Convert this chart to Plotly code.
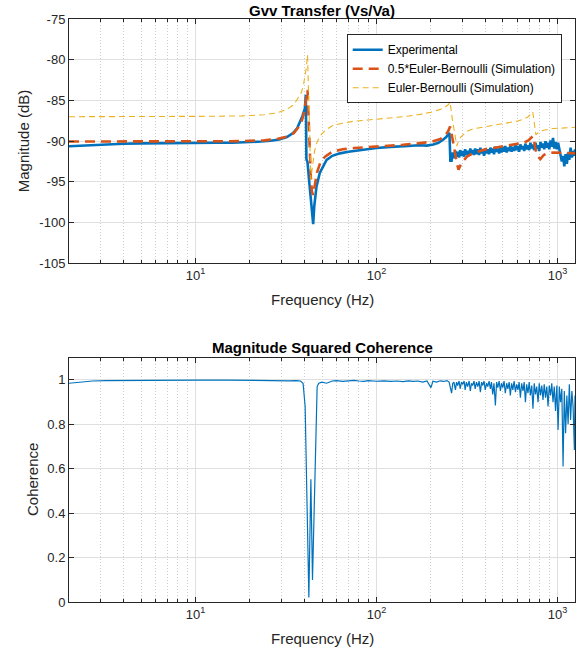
import math
import plotly.graph_objects as go

# ---------------- data ----------------
exp_freq_low = [2, 2.3, 2.6, 3, 3.5, 4, 5, 6, 8, 10,
                13, 16, 20, 23, 26, 29, 32, 34.6, 36.5, 37.7,
                39, 40.2, 40.7, 41.0, 41.6, 42.5, 43.5, 44.2, 44.7, 45.3,
                46.0, 46.6, 48.6, 51, 53, 57, 62.8, 70, 84.6, 100,
                120, 135, 150, 170, 190, 206, 220, 234, 243, 250,
                253, 256]
exp_mag_low = [-90.62, -90.55, -90.48, -90.42, -90.36, -90.32, -90.27, -90.24, -90.22, -90.2,
               -90.2, -90.2, -90.15, -90.05, -89.95, -89.8, -89.5, -89.0, -88.4, -87.75,
               -86.9, -86.0, -84.3, -92.2, -92.6, -95.0, -97.6, -99.3, -100.2, -98.0,
               -96.5, -95.6, -93.9, -92.9, -92.3, -91.8, -91.5, -91.3, -91.05, -90.85,
               -90.7, -90.6, -90.6, -90.5, -90.55, -90.4, -90.2, -89.8, -89.5, -89.1,
               -89.0, -92.4]

noise_freq = [260, 264, 268, 273, 277, 281, 286, 290, 295, 300,
              305, 309, 314, 319, 325, 330, 335, 340, 346, 351,
              357, 363, 369, 375, 381, 387, 393, 399, 406, 412,
              419, 426, 432, 439, 446, 454, 461, 468, 476, 484,
              491, 499, 507, 515, 524, 532, 541, 549, 558, 567,
              576, 586, 595, 605, 614, 624, 634, 645, 655, 665,
              676, 687, 698, 709, 721, 732, 744, 756, 768, 781,
              793, 806, 819, 832, 845, 859, 873, 887, 901, 916,
              930, 945, 960, 976, 992, 1008, 1024, 1040, 1057, 1074,
              1091, 1109, 1127, 1145, 1163, 1182, 1201, 1220, 1240, 1250]

exp_mag_noise = [-92.4, -91.4, -92.1, -91.2, -91.9, -91.3, -92.0, -91.1, -91.8, -91.2,
                 -91.9, -91.0, -91.7, -91.2, -91.8, -90.9, -91.6, -91.1, -91.7, -90.9,
                 -91.6, -91.0, -91.7, -90.8, -91.5, -91.1, -91.8, -90.9, -91.5, -91.0,
                 -91.6, -90.8, -91.4, -90.9, -91.6, -90.7, -91.3, -90.9, -91.5, -90.8,
                 -91.4, -90.7, -91.3, -90.6, -91.4, -90.8, -91.2, -90.5, -91.3, -90.7,
                 -91.2, -90.5, -91.1, -90.6, -91.3, -90.4, -91.0, -90.6, -91.2, -90.3,
                 -91.0, -90.5, -91.1, -90.2, -90.9, -90.4, -91.1, -90.2, -90.9, -90.5,
                 -91.2, -90.1, -90.8, -90.3, -91.0, -90.0, -90.8, -90.2, -91.0, -89.9,
                 -90.7, -89.6, -90.9, -90.1, -91.0, -90.2, -90.9, -91.4, -92.5, -91.8,
                 -93.1, -91.6, -92.8, -91.4, -92.3, -90.8, -92.0, -91.2, -91.8, -91.0]

sim_freq = [2, 4, 8, 12, 18, 24, 28, 32, 35, 37,
            38.5, 39.5, 40.3, 41.0, 41.6, 42.2, 42.8, 43.4, 44.0, 44.6,
            45.5, 47, 49, 52, 57, 65, 75, 90, 110, 140,
            170, 200, 225, 240, 250, 255, 262, 270, 278, 284,
            292, 305, 316, 340, 370, 408, 450, 483, 540, 598,
            650, 690, 710, 730, 745, 760, 780, 805, 840, 877,
            950, 1050, 1150, 1250]

half_eb_mag = [-90.05, -90.05, -90.05, -90.05, -90.0, -89.9, -89.75, -89.45, -89.0, -88.3,
               -87.6, -86.8, -85.8, -84.7, -83.7, -86.5, -91.0, -94.5, -96.2, -96.6,
               -95.3, -93.8, -92.6, -91.9, -91.3, -91.0, -90.85, -90.7, -90.6, -90.45,
               -90.3, -90.1, -89.75, -89.3, -88.7, -88.2, -89.5, -91.2, -92.7, -93.5,
               -92.9, -92.3, -91.9, -91.5, -91.2, -90.95, -90.8, -90.7, -90.55, -90.4,
               -90.2, -89.9, -89.7, -89.4, -90.2, -91.2, -91.9, -92.2, -91.7, -91.5,
               -91.4, -91.4, -91.45, -91.5]

eb_mag = [-87.0, -87.0, -87.0, -86.95, -86.9, -86.75, -86.55, -86.1, -85.5, -84.7,
          -84.0, -83.1, -82.1, -80.9, -79.4, -85.0, -91.5, -94.7, -93.6, -92.4,
          -91.2, -90.1, -89.3, -88.7, -88.1, -87.8, -87.55, -87.4, -87.25, -87.0,
          -86.75, -86.45, -86.1, -85.8, -85.5, -85.2, -87.2, -89.2, -90.6, -90.0,
          -89.5, -89.1, -88.8, -88.5, -88.35, -88.2, -88.0, -87.9, -87.75, -87.55,
          -87.3, -87.0, -86.7, -86.4, -87.8, -89.2, -89.0, -88.8, -88.65, -88.55,
          -88.45, -88.4, -88.35, -88.3]

coh_freq_low = [2, 2.3, 2.7, 3.2, 4, 6, 10, 15, 20, 24,
                26, 28, 30, 33, 36, 38, 39.3, 40.35, 42.3, 43.4,
                44.3, 47, 48, 50, 53, 57, 60, 65, 70, 75,
                80, 85, 90, 100, 110, 120, 130, 140, 150, 160,
                170, 180, 190, 200, 205, 215, 225, 235, 245, 252]
coh_low = [0.985, 0.99, 0.995, 0.997, 0.998, 0.999, 0.999, 0.999, 0.998, 0.995,
           0.997, 0.994, 0.997, 0.996, 0.997, 0.995, 0.985, 0.88, 0.02, 0.553,
           0.099, 0.97, 0.985, 0.99, 0.985, 0.995, 0.997, 0.993, 0.996, 0.998,
           0.995, 0.993, 0.997, 0.994, 0.996, 0.993, 0.995, 0.992, 0.996, 0.993,
           0.995, 0.99, 0.995, 0.965, 0.994, 0.99, 0.996, 0.993, 0.997, 0.99]
coh_noise = [0.94, 0.985, 0.99, 0.955, 0.99, 0.975, 0.995, 0.96, 0.99, 0.98,
             0.995, 0.955, 0.99, 0.97, 0.995, 0.95, 0.985, 0.975, 0.995, 0.96,
             0.99, 0.97, 0.995, 0.945, 0.99, 0.975, 0.995, 0.955, 0.985, 0.97,
             0.995, 0.96, 0.99, 0.935, 0.985, 0.885, 0.99, 0.965, 0.995, 0.95,
             0.985, 0.965, 0.995, 0.94, 0.985, 0.96, 0.99, 0.93, 0.985, 0.955,
             0.995, 0.945, 0.98, 0.955, 0.99, 0.92, 0.985, 0.95, 0.99, 0.9,
             0.98, 0.94, 0.99, 0.93, 0.975, 0.87, 0.985, 0.935, 0.97, 0.9,
             0.985, 0.93, 0.975, 0.91, 0.98, 0.92, 0.97, 0.88, 0.975, 0.93,
             0.985, 0.9, 0.97, 0.86, 0.975, 0.775, 0.97, 0.9, 0.96, 0.61,
             0.95, 0.76, 0.93, 0.8, 0.98, 0.82, 0.95, 0.88, 0.685, 0.93]

x_tickvals = [10, 100, 1000]
x_ticktext = ["10<sup>1</sup>", "10<sup>2</sup>", "10<sup>3</sup>"]
x_minor = [2, 3, 4, 5, 6, 7, 8, 9, 20, 30, 40, 50, 60, 70, 80, 90,
           200, 300, 400, 500, 600, 700, 800, 900]
mag_ticks = [-105, -100, -95, -90, -85, -80, -75]
mag_ticktext = ["-105", "-100", "-95", "-90", "-85", "-80", "-75"]
coh_ticks = [0, 0.2, 0.4, 0.6, 0.8, 1]
coh_ticktext = ["0", "0.2", "0.4", "0.6", "0.8", "1"]

# ---------------- figure ----------------
BLUE = "#0072BD"
ORANGE = "#D95319"
YELLOW = "#EDB120"
FONT = "Liberation Sans, Arial, Helvetica, sans-serif"
AX = "#262626"

fig = go.Figure()
fig.add_trace(go.Scatter(x=exp_freq_low + noise_freq, y=exp_mag_low + exp_mag_noise,
                         mode="lines", name="Experimental",
                         line=dict(color=BLUE, width=2.6), xaxis="x", yaxis="y"))
fig.add_trace(go.Scatter(x=sim_freq, y=half_eb_mag, mode="lines",
                         name="0.5*Euler-Bernoulli (Simulation)",
                         line=dict(color=ORANGE, width=2.6, dash="10px,6px"),
                         xaxis="x", yaxis="y"))
fig.add_trace(go.Scatter(x=sim_freq, y=eb_mag, mode="lines",
                         name="Euler-Bernoulli (Simulation)",
                         line=dict(color=YELLOW, width=1.1, dash="6px,4px"),
                         xaxis="x", yaxis="y"))
fig.add_trace(go.Scatter(x=coh_freq_low + noise_freq, y=coh_low + coh_noise,
                         mode="lines", showlegend=False,
                         line=dict(color=BLUE, width=1.2), xaxis="x2", yaxis="y2"))

xr = [math.log10(2), math.log10(1250)]


def xaxis(anchor):
    return dict(type="log", range=xr, anchor=anchor, domain=[0, 1],
                tickvals=x_tickvals, ticktext=x_ticktext,
                ticks="inside", ticklen=5, tickcolor=AX, tickwidth=1,
                showline=True, linecolor=AX, linewidth=1, mirror="ticks",
                showgrid=True, gridcolor="#dfdfdf", gridwidth=1,
                tickfont=dict(family=FONT, size=13, color=AX),
                minor=dict(tickvals=x_minor, ticks="inside", ticklen=3,
                           tickcolor=AX, showgrid=True, gridcolor="#cdcdcd",
                           griddash="1px,2px", gridwidth=1),
                zeroline=False, fixedrange=True)


def yaxis(anchor, dom, rng, tv, tt):
    return dict(range=rng, anchor=anchor, domain=dom,
                tickvals=tv, ticktext=tt,
                ticks="inside", ticklen=5, tickcolor=AX, tickwidth=1,
                showline=True, linecolor=AX, linewidth=1, mirror="ticks",
                showgrid=True, gridcolor="#dfdfdf", gridwidth=1,
                tickfont=dict(family=FONT, size=13, color=AX),
                zeroline=False, fixedrange=True)


W, H = 582, 653
ml, mr, mt, mb = 69, 7, 19, 51
ph = H - mt - mb
pw = W - ml - mr


def py(ypx):
    return (H - mb - ypx) / ph


def px(xpx):
    return (xpx - ml) / pw


fig.update_layout(
    width=W, height=H, autosize=False,
    margin=dict(l=ml, r=mr, t=mt, b=mb, pad=0),
    paper_bgcolor="white", plot_bgcolor="white",
    font=dict(family=FONT, color=AX),
    xaxis=xaxis("y"),
    yaxis=yaxis("x", [py(263.3), 1], [-105, -75], mag_ticks, mag_ticktext),
    xaxis2=xaxis("y2"),
    yaxis2=yaxis("x2", [0, py(357.7)], [0, 1.1], coh_ticks, coh_ticktext),
    legend=dict(x=px(561.7), y=py(34.3), xanchor="right", yanchor="top",
                bgcolor="white", bordercolor=AX, borderwidth=1,
                font=dict(family=FONT, size=12, color="black"),
                tracegroupgap=0, itemwidth=30),
    showlegend=True,
)

annots = [
    dict(text="<b>Gvv Transfer (Vs/Va)</b>", x=0.5, y=py(10), size=15, angle=0, color="black"),
    dict(text="<b>Magnitude Squared Coherence</b>", x=0.5, y=py(347), size=15, angle=0, color="black"),
    dict(text="Frequency (Hz)", x=0.5, y=py(299), size=15, angle=0, color=AX),
    dict(text="Frequency (Hz)", x=0.5, y=py(638), size=15, angle=0, color=AX),
    dict(text="Magnitude (dB)", x=px(23.3), y=py(141), size=15, angle=-90, color=AX),
    dict(text="Coherence", x=px(32), y=py(480), size=15, angle=-90, color=AX),
]
for a in annots:
    fig.add_annotation(text=a["text"], x=a["x"], y=a["y"], xref="paper", yref="paper",
                       xanchor="center", yanchor="middle", showarrow=False,
                       textangle=a["angle"],
                       font=dict(family=FONT, size=a["size"], color=a["color"]))

fig.write_html("out.html", config=dict(displayModeBar=False))
